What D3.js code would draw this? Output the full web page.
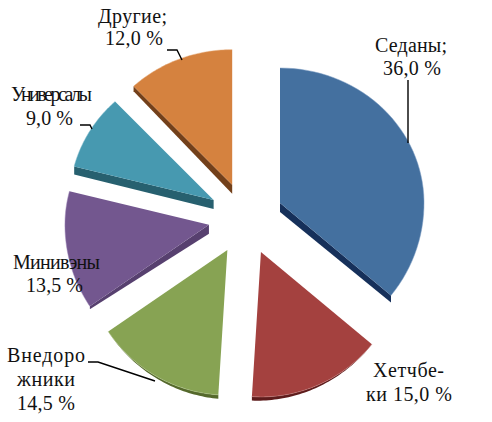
<!DOCTYPE html>
<html><head><meta charset="utf-8">
<script src="https://cdnjs.cloudflare.com/ajax/libs/d3/7.8.5/d3.min.js"></script>
<style>html,body{margin:0;padding:0;background:#fff}svg{display:block}</style>
</head><body><svg id="c" width="492" height="422"></svg>
<script>
const categories = ["Седаны","Хетчбеки","Внедорожники","Минивэны","Универсалы","Другие"];
const values = [36.0,15.0,14.5,13.5,9.0,12.0];
const labelLines = [
  ["Седаны;","36,0 %"],
  ["Хетчбе-","ки 15,0 %"],
  ["Внедоро","жники","14,5 %"],
  ["Минивэны","13,5 %"],
  ["Универсалы","9,0 %"],
  ["Другие;","12,0 %"]
];

// styles and layout, separate from the data
const topColors  = ["#44709f","#a4413f","#87a353","#73578f","#4799b0","#d5823f"];
const sideColors = ["#16305a","#5e1c1c","#55692c","#57406f","#27606f","#73401a"];
const edgeColors = ["#7f9fc6","#c77f7d","#aec385","#9f88b9","#7fbccd","#e6aa78"];
// wall: which straight edge shows its side, depth at apex and at rim;
// rimStart/rimEnd: depth of the outer wall at the slice's first and last angle
const walls = [
  {edge:"end",  apex:9, tip:7, rimStart:0, rimEnd:0},
  {edge:null,   apex:0, tip:0, rimStart:0, rimEnd:4},
  {edge:null,   apex:0, tip:0, rimStart:4, rimEnd:0},
  {edge:"start",apex:9, tip:3, rimStart:0, rimEnd:0},
  {edge:"start",apex:9, tip:8, rimStart:0, rimEnd:0},
  {edge:"start",apex:9, tip:5, rimStart:0, rimEnd:0}
];
const labelBoxes = [
  [[375,447,52],[383,441,75]],
  [[373,444,377],[366,452,401]],
  [[7,85,362],[17,75,386],[17,75,410]],
  [[13,100,269],[26,83,292]],
  [[11,92,101],[26,73,125]],
  [[98,167,23],[105,163,45]]
];
const leaders = [
  [[408,80],[408,143]],
  null,
  [[88,362],[98,362],[155,381]],
  null,
  [[80,125],[90,125],[92,129]],
  [[167,50],[177,50],[182,60]]
];

const cx=246, cy=218.5, explodeX=37.6, explodeY=36.4, rx=144, ryUp=135, ryDown=145;
const svg = d3.select("#c");
const pie = d3.pie().sort(null).value(d=>d)(values);
const line = d3.line();

const px = (a,ox,oy)=>{
  const c=Math.cos(a), ry = c>0 ? ryUp : ryDown;
  return [ox+rx*Math.sin(a), oy-ry*c];
};
pie.forEach((p,i)=>{
  const mid=(p.startAngle+p.endAngle)/2;
  const ox=cx+explodeX*Math.sin(mid), oy=cy-explodeY*Math.cos(mid);
  const n=48;
  const angles=d3.range(n+1).map(k=>p.startAngle+(p.endAngle-p.startAngle)*k/n);
  const rimPts=angles.map(a=>px(a,ox,oy));
  const w=walls[i];
  const g=svg.append("g");
  if(w.edge){
    const t=w.edge==="end"?rimPts[n]:rimPts[0];
    g.append("path").attr("d",line([[ox,oy],t,[t[0],t[1]+w.tip],[ox,oy+w.apex]])+"Z").attr("fill",sideColors[i]);
  }
  if(w.rimStart||w.rimEnd){
    const lower=rimPts.map((q,k)=>[q[0],q[1]+w.rimStart+(w.rimEnd-w.rimStart)*k/n]).reverse();
    g.append("path").attr("d",line(rimPts.concat(lower))+"Z").attr("fill",sideColors[i]);
  }
  g.append("path").attr("d",line([[ox,oy]].concat(rimPts))+"Z").attr("fill",topColors[i]);
  g.append("path").attr("d",line(rimPts)).attr("fill","none").attr("stroke",edgeColors[i]).attr("stroke-width",1).attr("stroke-opacity",0.5);
});

leaders.forEach(l=>{
  if(l) svg.append("path").attr("d",line(l)).attr("fill","none").attr("stroke","#000").attr("stroke-width",1.4);
});

labelLines.forEach((lines,i)=>{
  lines.forEach((t,j)=>{
    const b=labelBoxes[i][j];
    svg.append("text").text(t)
      .attr("x",b[0]).attr("y",b[2])
      .attr("textLength",b[1]-b[0]).attr("lengthAdjust","spacing")
      .attr("font-family","'Liberation Serif',serif").attr("font-size",20).attr("fill","#111");
  });
});
</script></body></html>
